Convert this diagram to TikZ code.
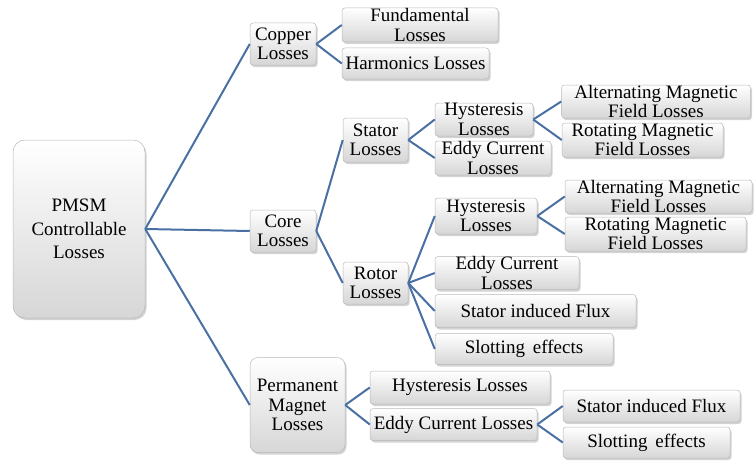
\documentclass[tikz,border=0pt]{standalone}
\usepackage{fontspec}
\setmainfont{Liberation Serif}
\newfontfamily\boxfont{Liberation Serif}
\usetikzlibrary{shadows}
\definecolor{linkblue}{RGB}{74,112,163}

\begin{document}
\begin{tikzpicture}[
  x=1pt, y=-1pt,
  box/.style={rectangle, draw=gray!55, line width=0.5pt, rounded corners=3pt, top color=white, bottom color=gray!32, drop shadow={shadow xshift=1.5pt, shadow yshift=-2pt, opacity=0.35}, align=center, inner sep=0pt, font=\boxfont\fontsize{19}{19.5}\selectfont},
  bigbox/.style={box, rounded corners=12pt},
  link/.style={draw=linkblue, line width=2pt}
]
  \useasboundingbox (0,0) rectangle (754,460);

  % level 0 and 1
  \node[bigbox, minimum width=132pt, minimum height=178pt] (root) at (79,229) {PMSM\\[4pt]Controllable\\[4pt]Losses};
  \node[box, minimum width=66pt, minimum height=42pt] (copper) at (283,44) {Copper\\Losses};
  \node[box, minimum width=66pt, minimum height=42pt] (core) at (283,231) {Core\\Losses};
  \node[bigbox, rounded corners=8pt, minimum width=95pt, minimum height=95pt] (pm) at (297.5,405) {Permanent\\Magnet\\Losses};

  % copper losses
  \node[box, minimum width=156pt, minimum height=34pt] (fund) at (420,25) {Fundamental\\Losses};
  \node[box, minimum width=147pt, minimum height=31pt] (harm) at (415.5,63.5) {Harmonics Losses};

  % core losses
  \node[box, minimum width=65pt, minimum height=44pt] (stator) at (375.5,140) {Stator\\Losses};
  \node[box, minimum width=65pt, minimum height=42pt] (rotor) at (375.5,283) {Rotor\\Losses};
  \node[box, minimum width=98pt, minimum height=33pt] (hysts) at (484,119.5) {Hysteresis\\Losses};
  \node[box, minimum width=116pt, minimum height=34pt] (eddys) at (493,158) {Eddy Current\\Losses};
  \node[box, minimum width=189pt, minimum height=33pt] (alts) at (656,101.5) {Alternating Magnetic\\Field Losses};
  \node[box, minimum width=161pt, minimum height=34pt] (rots) at (642.5,140) {Rotating Magnetic\\Field Losses};
  \node[box, minimum width=102pt, minimum height=36pt] (hystr) at (486,216) {Hysteresis\\Losses};
  \node[box, minimum width=187pt, minimum height=33pt] (altr) at (658.5,196.5) {Alternating Magnetic\\Field Losses};
  \node[box, minimum width=181pt, minimum height=34pt] (rotr) at (655.5,234) {Rotating Magnetic\\Field Losses};
  \node[box, minimum width=144pt, minimum height=33pt] (eddyr) at (507,273) {Eddy Current\\Losses};
  \node[box, minimum width=201pt, minimum height=33pt] (fluxr) at (535.5,311) {Stator induced Flux};
  \node[box, minimum width=178pt, minimum height=31pt] (slotr) at (524,349) {Slotting\, effects};

  % permanent magnet losses
  \node[box, minimum width=180pt, minimum height=33pt] (hystp) at (460,387.5) {Hysteresis Losses};
  \node[box, minimum width=167pt, minimum height=32pt] (eddyp) at (453.5,424.5) {Eddy Current Losses};
  \node[box, minimum width=177pt, minimum height=32pt] (fluxp) at (651.5,406) {Stator induced Flux};
  \node[box, minimum width=167pt, minimum height=31pt] (slotp) at (646.5,442.5) {Slotting\, effects};

  % connectors
  \foreach \to in {copper, core, pm} \draw[link] (root.east) -- (\to.west);
  \foreach \to in {fund, harm} \draw[link] (copper.east) -- (\to.west);
  \foreach \to in {stator, rotor} \draw[link] (core.east) -- (\to.west);
  \foreach \to in {hysts, eddys} \draw[link] (stator.east) -- (\to.west);
  \foreach \to in {alts, rots} \draw[link] (hysts.east) -- (\to.west);
  \foreach \to in {hystr, eddyr, fluxr, slotr} \draw[link] (rotor.east) -- (\to.west);
  \foreach \to in {altr, rotr} \draw[link] (hystr.east) -- (\to.west);
  \foreach \to in {hystp, eddyp} \draw[link] (pm.east) -- (\to.west);
  \foreach \to in {fluxp, slotp} \draw[link] (eddyp.east) -- (\to.west);
\end{tikzpicture}
\end{document}
